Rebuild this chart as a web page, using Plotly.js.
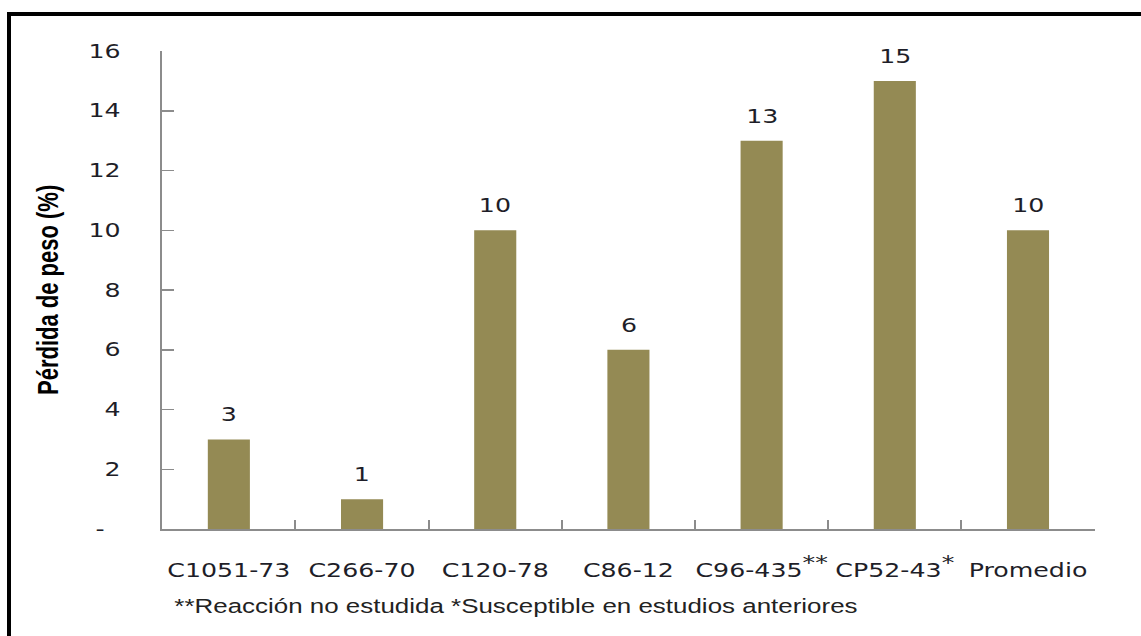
<!DOCTYPE html>
<html>
<head>
<meta charset="utf-8">
<script src="https://cdn.plot.ly/plotly-3.0.1.min.js"></script>
<style>
  html, body { margin: 0; padding: 0; background: #fff; overflow: hidden; }
  #wrap { position: absolute; left: 0; top: 0; width: 1141px; height: 636px; overflow: hidden; }
  #chart { position: absolute; left: 0; top: 0; width: 858px; height: 636px; transform-origin: 0 0; transform: scaleX(1.33); }
  #frame { position: absolute; left: 7px; top: 12px; width: 1200px; height: 700px; border-left: 4px solid #000; border-top: 4px solid #000; pointer-events: none; }
</style>
</head>
<body>
<div id="wrap">
  <div id="chart"></div>
  <div id="frame"></div>
</div>
<script>
const categories = ['C1051-73', 'C266-70', 'C120-78', 'C86-12', 'C96-435', 'CP52-43', 'Promedio'];
const categoryMarks = ['', '', '', '', '**', '*', ''];
const values = [3, 1, 10, 6, 13, 15, 10];
const yTickVals = [0, 2, 4, 6, 8, 10, 12, 14, 16];
const yTickText = ['-\u00a0\u00a0', '2', '4', '6', '8', '10', '12', '14', '16'];
const yTitle = 'Pérdida de peso (%)';
const footnote = '**Reacción no estudida *Susceptible en estudios anteriores';

const catLabels = categories.map((c, i) => categoryMarks[i]
  ? c + '<sup><span style="font-size:19px">' + categoryMarks[i] + '</span></sup>'
  : c);

const textFont = { family: 'DejaVu Sans, Verdana, sans-serif', size: 19, color: '#1e1e28' };

const trace = {
  type: 'bar',
  x: categories,
  y: values,
  marker: { color: '#948A54', line: { width: 0 } },
  hoverinfo: 'none'
};

const valueAnnotations = categories.map((c, i) => ({
  x: c, y: values[i], xref: 'x', yref: 'y',
  text: String(values[i]), showarrow: false,
  yanchor: 'bottom', yshift: 12,
  font: textFont
}));

const layout = {
  width: 858, height: 636,
  margin: { l: 122, r: 35, t: 51, b: 107 },
  paper_bgcolor: 'rgba(0,0,0,0)',
  plot_bgcolor: 'rgba(0,0,0,0)',
  bargap: 0.684,
  showlegend: false,
  xaxis: {
    type: 'category',
    tickmode: 'array',
    tickvals: categories,
    ticktext: catLabels,
    tickson: 'boundaries',
    tickangle: 0,
    ticks: 'inside', ticklen: 9, tickwidth: 1.5, tickcolor: '#8c8c8c',
    showline: true, linecolor: '#8c8c8c', linewidth: 1.5,
    showgrid: false, zeroline: false,
    tickfont: textFont,
    ticklabelstandoff: 24
  },
  yaxis: {
    range: [0, 16],
    tickmode: 'array',
    tickvals: yTickVals,
    ticktext: yTickText,
    ticks: 'inside', ticklen: 9, tickwidth: 1.5, tickcolor: '#8c8c8c',
    showline: true, linecolor: '#8c8c8c', linewidth: 1.5,
    showgrid: false, zeroline: false,
    tickfont: textFont,
    ticklabelstandoff: 26
  },
  annotations: valueAnnotations.concat([
    {
      xref: 'paper', yref: 'paper', x: -0.1227, y: 0.5,
      xanchor: 'center', yanchor: 'middle', textangle: -90,
      text: '<b>' + yTitle + '</b>', showarrow: false,
      font: { family: 'Liberation Sans, Arial, sans-serif', size: 22, color: '#000' }
    },
    {
      xref: 'paper', yref: 'paper', x: 0.01, y: -0.161,
      xanchor: 'left', yanchor: 'middle',
      text: footnote, showarrow: false,
      font: { family: 'Liberation Sans, Arial, sans-serif', size: 19.5, color: '#222' }
    }
  ])
};

Plotly.newPlot('chart', [trace], layout, { displayModeBar: false, staticPlot: true });
</script>
</body>
</html>
